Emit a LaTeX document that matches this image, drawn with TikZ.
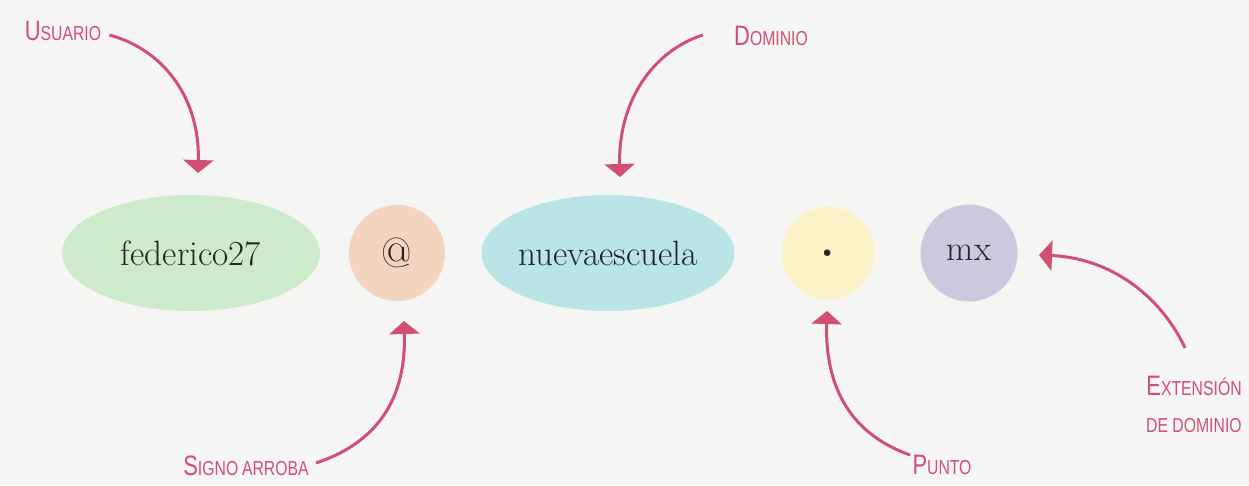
\documentclass[tikz,border=0pt]{standalone}
\usepackage{fontspec}
\usetikzlibrary{arrows.meta,shapes.geometric}
\newfontfamily\lblfont[FakeStretch=0.78]{Liberation Sans}
\definecolor{bg}{HTML}{F5F5F3}
\definecolor{pinkc}{HTML}{CF4F76}
\definecolor{greenc}{HTML}{CDEBCB}
\definecolor{orangec}{HTML}{F4D4BE}
\definecolor{tealc}{HTML}{B9E5E7}
\definecolor{yellowc}{HTML}{FAF2C6}
\definecolor{purplec}{HTML}{CDC8DD}
\newcommand{\sclab}[2]{{\fontsize{16}{18}\selectfont #1}{\fontsize{11.5}{18}\selectfont #2}}
\tikzset{
  lbl/.style={font=\lblfont, text=pinkc, inner sep=0pt},
  blob/.style={ellipse, inner sep=0pt, font=\fontsize{20}{24}\selectfont, text=black!85},
  pointer/.style={draw=pinkc, line width=1.7pt, -{Triangle[width=6mm,length=2.6mm]}},
}
\begin{document}
\begin{tikzpicture}[x=0.02cm,y=-0.02cm]
\fill[bg] (0,0) rectangle (1249,485);
\useasboundingbox (0,0) rectangle (1249,485);
% blobs
\node[blob, fill=greenc, minimum width=5.16cm, minimum height=2.32cm] (usr) at (191,253) {federico27};
\node[blob, fill=orangec, circle, minimum size=1.92cm, font=\fontsize{24}{28}\selectfont] (at) at (397,253) {@};
\node[blob, fill=tealc, minimum width=4.92cm, minimum height=2.32cm] (dom) at (608,253) {nuevaescuela};
\node[blob, fill=yellowc, circle, minimum size=1.86cm, font=\fontsize{26}{28}\selectfont\bfseries] (pt) at (828,253) {.};
\node[blob, fill=purplec, circle, minimum size=1.94cm] (ext) at (969,253) {mx};
% labels
\node[lbl] (lusr) at (63,31) {\sclab{U}{SUARIO}};
\node[lbl] (ldom) at (771,36) {\sclab{D}{OMINIO}};
\node[lbl] (lat) at (246,466) {\sclab{S}{IGNO} \sclab{}{ARROBA}};
\node[lbl] (lpt) at (942,465) {\sclab{P}{UNTO}};
\node[lbl, anchor=east] (lext1) at (1242,386) {\sclab{E}{XTENSIÓN}};
\node[lbl, anchor=east] (lext2) at (1242,426) {\sclab{}{DE DOMINIO}};
% arrow tips
\coordinate (tusr) at (198,173);
\coordinate (tdom) at (620,177);
\coordinate (tat) at (404,321);
\coordinate (tpt) at (827,311);
\coordinate (text) at (1039,255);
% arrows
\draw[pointer] ([xshift=0.16cm,yshift=-0.08cm]lusr.east) .. controls (165,50) and (200,100) .. (tusr);
\draw[pointer] ([xshift=-0.62cm,yshift=0.02cm]ldom.west) .. controls (650,52) and (618,105) .. (tdom);
\draw[pointer] ([xshift=0.14cm,yshift=0.06cm]lat.east) .. controls (385,440) and (406,390) .. (tat);
\draw[pointer] ([xshift=-0.04cm,yshift=0.2cm]lpt.west) .. controls (845,432) and (825,380) .. (tpt);
\draw[pointer] ([xshift=-0.18cm,yshift=0.56cm]lext1.north) .. controls (1160,295) and (1110,258) .. (text);
\end{tikzpicture}
\end{document}
